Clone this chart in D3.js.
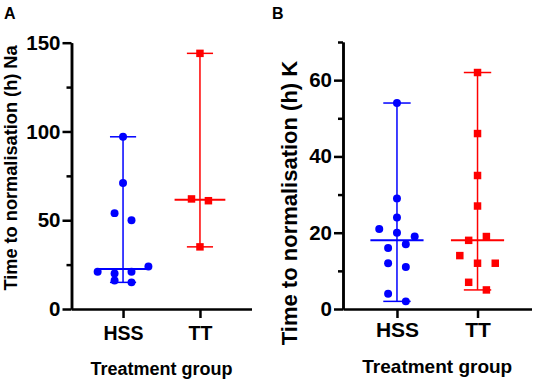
<!DOCTYPE html>
<html>
<head>
<meta charset="utf-8">
<script src="https://cdn.jsdelivr.net/npm/d3@7"></script>
<style>
  body { margin: 0; background: #fff; }
  svg { display: block; font-family: "Liberation Sans", Arial, sans-serif; font-weight: bold; }
  .axis path, .axis line { stroke: #000; stroke-width: 2.5; }
  .axis text { fill: #000; }
</style>
</head>
<body>
<div id="chart"></div>
<script>
// groups on the x axis
const groups = ['HSS', 'TT'];

// panel A: Na (hours), in the order they sit left to right within a row
const naHSS = [97, 71, 54, 50, 21, 20, 21, 24, 16, 15];
const naTT = [144, 62, 61, 35];
const naTicks = [0, 50, 100, 150];
const naMinor = [25, 75, 125];

// panel B: K (hours)
const kHSS = [54, 29, 24, 21, 20, 19, 16, 17, 12, 11, 4, 2];
const kTT = [62, 46, 35, 27, 18, 19, 14, 12, 12, 7, 5];
const kTicks = [0, 20, 40, 60];
const kMinor = [10, 30, 50, 70];

const colors = { HSS: '#0000ff', TT: '#ff0000' };

const svg = d3.select('#chart').append('svg')
  .attr('width', 536)
  .attr('height', 382);

// points closer than rowGap px vertically share a row and get spread sideways
function swarmOffsets(values, y, rowGap, step) {
  const order = d3.range(values.length).sort((a, b) => values[b] - values[a]);
  const offsets = new Array(values.length);
  let row = [];
  const flush = () => {
    row.sort((a, b) => a - b);
    row.forEach((idx, i) => { offsets[idx] = (i - (row.length - 1) / 2) * step; });
    row = [];
  };
  order.forEach((idx) => {
    if (row.length && y(values[idx]) - y(values[row[0]]) > rowGap) flush();
    row.push(idx);
  });
  flush();
  return offsets;
}

class Panel {
  constructor(options) {
    this.o = options;
    this.g = svg.append('g');
    this.setupUtils();
    this.drawAxes();
    this.drawGroups();
    this.drawText();
  }

  setupUtils() {
    const o = this.o;
    this.x = d3.scalePoint()
      .domain(groups)
      .range([o.left, o.right])
      .padding(0.67);
    this.y = d3.scaleLinear()
      .domain([0, d3.max(o.ticks.concat(o.minor))])
      .range([o.bottom, o.top]);
  }

  drawAxes() {
    const o = this.o;
    this.g.append('g')
      .attr('class', 'axis')
      .attr('transform', `translate(${o.left}, 0)`)
      .call(d3.axisLeft(this.y).tickValues(o.minor).tickSize(5).tickSizeOuter(0).tickFormat(''));

    this.g.append('g')
      .attr('class', 'axis')
      .attr('transform', `translate(${o.left}, 0)`)
      .call(d3.axisLeft(this.y).tickValues(o.ticks).tickSize(9).tickPadding(2).tickSizeOuter(0))
      .call((a) => a.selectAll('text').style('font-size', `${o.tickFont}px`));

    this.g.append('g')
      .attr('class', 'axis')
      .attr('transform', `translate(0, ${o.bottom})`)
      .call(d3.axisBottom(this.x).tickSize(9).tickPadding(o.catPad).tickSizeOuter(0))
      .call((a) => a.selectAll('text').style('font-size', `${o.catFont}px`));
  }

  drawGroups() {
    const { x, y } = this;
    const step = x.step() * 0.22;
    const cap = x.step() * 0.17;
    const half = x.step() * 0.33;

    [['HSS', this.o.hss, d3.symbolCircle, 50], ['TT', this.o.tt, d3.symbolSquare, 56]]
      .forEach(([name, values, shape, size]) => {
        const cx = x(name);
        const color = colors[name];
        const [lo, hi] = d3.extent(values);
        const med = d3.median(values);
        const gg = this.g.append('g')
          .attr('stroke', color)
          .attr('fill', color);

        gg.append('line')
          .attr('x1', cx).attr('x2', cx)
          .attr('y1', y(lo)).attr('y2', y(hi))
          .attr('stroke-width', 1.5);

        [lo, hi].forEach((v) => {
          gg.append('line')
            .attr('x1', cx - cap).attr('x2', cx + cap)
            .attr('y1', y(v)).attr('y2', y(v))
            .attr('stroke-width', 1.5);
        });

        gg.append('line')
          .attr('x1', cx - half).attr('x2', cx + half)
          .attr('y1', y(med)).attr('y2', y(med))
          .attr('stroke-width', 2);

        const offsets = swarmOffsets(values, y, 9, step);
        gg.selectAll('.dot')
          .data(values)
          .enter()
          .append('path')
          .attr('class', 'dot')
          .attr('stroke', 'none')
          .attr('d', d3.symbol(shape, size))
          .attr('transform', (d, i) => `translate(${cx + offsets[i]}, ${y(d)})`);
      });
  }

  drawText() {
    const o = this.o;
    this.g.append('text')
      .attr('x', o.labelX)
      .attr('y', 19)
      .style('font-size', '16px')
      .text(o.label);

    this.g.append('text')
      .attr('x', (o.left + o.right) / 2)
      .attr('y', o.xTitleY)
      .attr('text-anchor', 'middle')
      .style('font-size', `${o.xTitleFont}px`)
      .text('Treatment group');

    this.g.append('text')
      .attr('transform', `translate(${o.yTitleX}, ${o.yTitleY}) rotate(-90)`)
      .attr('text-anchor', 'middle')
      .style('font-size', `${o.yTitleFont}px`)
      .text(o.yTitle);
  }
}

new Panel({
  label: 'A', labelX: 4, hss: naHSS, tt: naTT, ticks: naTicks, minor: naMinor,
  yTitle: 'Time to normalisation (h) Na',
  left: 71.5, right: 251.5, top: 42.7, bottom: 309,
  tickFont: 20.5, catFont: 19.5, catPad: 8, xTitleFont: 18, xTitleY: 375,
  yTitleFont: 18.2, yTitleX: 17, yTitleY: 168,
});

new Panel({
  label: 'B', labelX: 272, hss: kHSS, tt: kTT, ticks: kTicks, minor: kMinor,
  yTitle: 'Time to normalisation (h) K',
  left: 343, right: 531.5, top: 42, bottom: 309,
  tickFont: 20.5, catFont: 21, catPad: 4, xTitleFont: 19, xTitleY: 373,
  yTitleFont: 22, yTitleX: 297, yTitleY: 203,
});
</script>
</body>
</html>
